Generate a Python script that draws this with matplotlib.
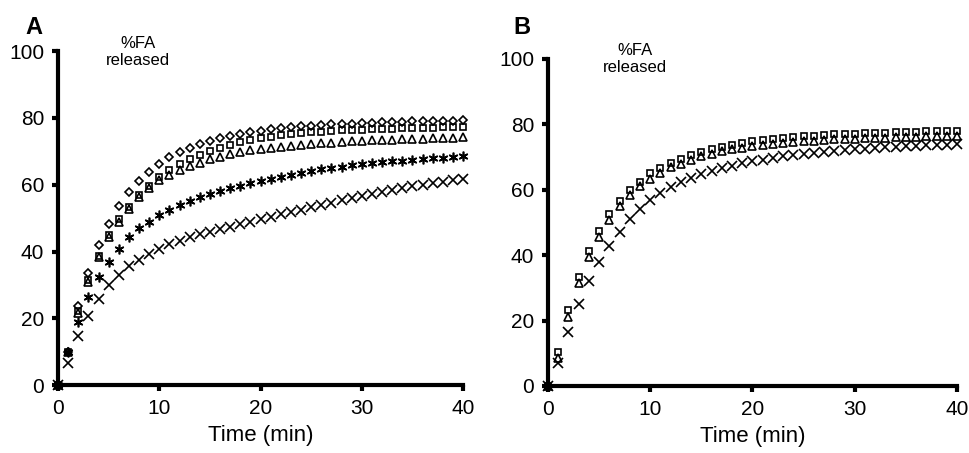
# FA release over time, two panels (A and B)

import numpy as np
import matplotlib
matplotlib.use("Agg")
import matplotlib.pyplot as plt

plt.rcParams['font.family'] = ['Liberation Sans', 'DejaVu Sans']

#---------- data

time = np.arange(0, 41)

a_diamond = [0, 10.0, 23.6, 33.7, 41.9, 48.2, 53.5, 57.8, 61.2, 63.8, 66.2, 68.2, 69.9, 71.1, 72.2, 73.2,
             74.0, 74.7, 75.3, 75.8, 76.2, 76.6, 77.0, 77.3, 77.5, 77.7, 77.9, 78.1, 78.2, 78.3, 78.5,
             78.6, 78.7, 78.8, 78.9, 79.0, 79.0, 79.1, 79.2, 79.2, 79.3]
a_square = [0, 10.0, 22.2, 31.4, 38.8, 44.9, 49.6, 53.4, 57.0, 59.6, 62.2, 64.4, 66.2, 67.6, 68.9, 70.0,
            71.1, 72.0, 72.7, 73.4, 74.0, 74.4, 74.8, 75.1, 75.4, 75.7, 75.9, 76.1, 76.3, 76.4, 76.5,
            76.6, 76.7, 76.8, 76.9, 77.0, 77.0, 77.1, 77.2, 77.2, 77.3]
a_triangle = [0, 9.8, 21.5, 31.0, 38.4, 44.3, 48.8, 52.8, 56.2, 59.0, 61.4, 62.9, 64.4, 65.6, 66.6, 67.6,
              68.4, 69.1, 69.8, 70.3, 70.7, 71.1, 71.4, 71.7, 72.0, 72.2, 72.4, 72.6, 72.8, 73.0, 73.1,
              73.3, 73.4, 73.5, 73.6, 73.7, 73.8, 73.9, 74.0, 74.1, 74.2]
a_star = [0, 10.0, 19.0, 26.5, 32.3, 36.9, 40.9, 44.2, 46.9, 48.9, 50.9, 52.4, 53.9, 55.2, 56.3, 57.3,
          58.2, 58.9, 59.6, 60.4, 61.1, 61.8, 62.4, 63.0, 63.6, 64.1, 64.6, 65.0, 65.4, 65.8, 66.2,
          66.5, 66.7, 67.0, 67.2, 67.4, 67.7, 67.9, 68.1, 68.3, 68.5]
a_cross = [0, 6.7, 14.8, 20.8, 25.7, 29.9, 32.9, 35.6, 37.6, 39.4, 40.9, 42.2, 43.2, 44.2, 45.1, 45.9,
           46.6, 47.4, 48.2, 48.9, 49.6, 50.4, 51.1, 51.8, 52.5, 53.2, 53.9, 54.6, 55.3, 56.0, 56.7,
           57.3, 57.9, 58.5, 59.0, 59.5, 60.0, 60.5, 60.9, 61.3, 61.6]

b_square = [0, 10.5, 23.2, 33.4, 41.4, 47.4, 52.5, 56.7, 59.9, 62.5, 65.0, 66.6, 68.1, 69.3, 70.6, 71.6,
            72.5, 73.2, 73.8, 74.3, 74.8, 75.2, 75.5, 75.8, 76.1, 76.3, 76.5, 76.7, 76.9, 77.0, 77.1,
            77.2, 77.3, 77.4, 77.5, 77.6, 77.7, 77.8, 77.9, 78.0, 78.1]
b_triangle = [0, 8.5, 21.0, 31.5, 39.3, 45.5, 50.8, 55.0, 58.4, 61.2, 63.4, 65.2, 66.8, 68.0, 69.2, 70.2,
              71.0, 71.7, 72.3, 72.8, 73.3, 73.7, 74.0, 74.3, 74.6, 74.8, 75.0, 75.2, 75.4, 75.5, 75.6,
              75.7, 75.8, 75.9, 76.0, 76.1, 76.2, 76.3, 76.3, 76.4, 76.5]
b_cross = [0, 7.1, 16.6, 25.1, 32.2, 38.0, 42.9, 47.2, 51.1, 54.1, 56.9, 58.9, 60.8, 62.4, 63.7, 64.8,
           65.8, 66.6, 67.4, 68.1, 68.7, 69.2, 69.7, 70.2, 70.6, 71.0, 71.3, 71.6, 71.9, 72.2, 72.4,
           72.6, 72.8, 73.0, 73.2, 73.3, 73.5, 73.6, 73.7, 73.8, 73.9]

xticks = [0, 10, 20, 30, 40]
yticks = [0, 20, 40, 60, 80, 100]

#---------- plot

fig = plt.figure(figsize=(9.69, 4.53), dpi=100)
axA = fig.add_axes([0.0599, 0.150, 0.4180, 0.737])
axB = fig.add_axes([0.5655, 0.148, 0.4221, 0.722])

style = dict(linestyle='none', color='black', mfc='none', mew=1.2, clip_on=False)

axA.plot(time, a_diamond, marker='D', ms=4.2, **style)
axA.plot(time, a_square, marker='s', ms=5.0, **style)
axA.plot(time, a_triangle, marker='^', ms=5.5, **style)
axA.plot(time, a_star, marker=(6, 2, 0), ms=7.0, **style)
axA.plot(time, a_cross, marker='x', ms=6.5, **style)

axB.plot(time, b_square, marker='s', ms=5.0, **style)
axB.plot(time, b_triangle, marker='^', ms=5.5, **style)
axB.plot(time, b_cross, marker='x', ms=6.5, **style)

for ax in (axA, axB):
    ax.set_xlim(0, 40)
    ax.set_ylim(0, 100)
    ax.set_xticks(xticks)
    ax.set_yticks(yticks)
    for s in ('top', 'right'):
        ax.spines[s].set_visible(False)
    for s in ('left', 'bottom'):
        ax.spines[s].set_linewidth(3)
    ax.tick_params(direction='out', length=4, width=3, labelsize=15, pad=6)
    ax.set_xlabel('Time (min)', fontsize=16, labelpad=5)

axA.text(7.9, 99.7, '%FA\nreleased', ha='center', va='center', fontsize=12, clip_on=False)
axB.text(8.5, 100.0, '%FA\nreleased', ha='center', va='center', fontsize=12, clip_on=False)

fig.text(0.035, 0.94, 'A', fontsize=17, fontweight='bold', ha='center', va='center')
fig.text(0.539, 0.94, 'B', fontsize=17, fontweight='bold', ha='center', va='center')

plt.savefig("out.png", dpi=100)
plt.close()
